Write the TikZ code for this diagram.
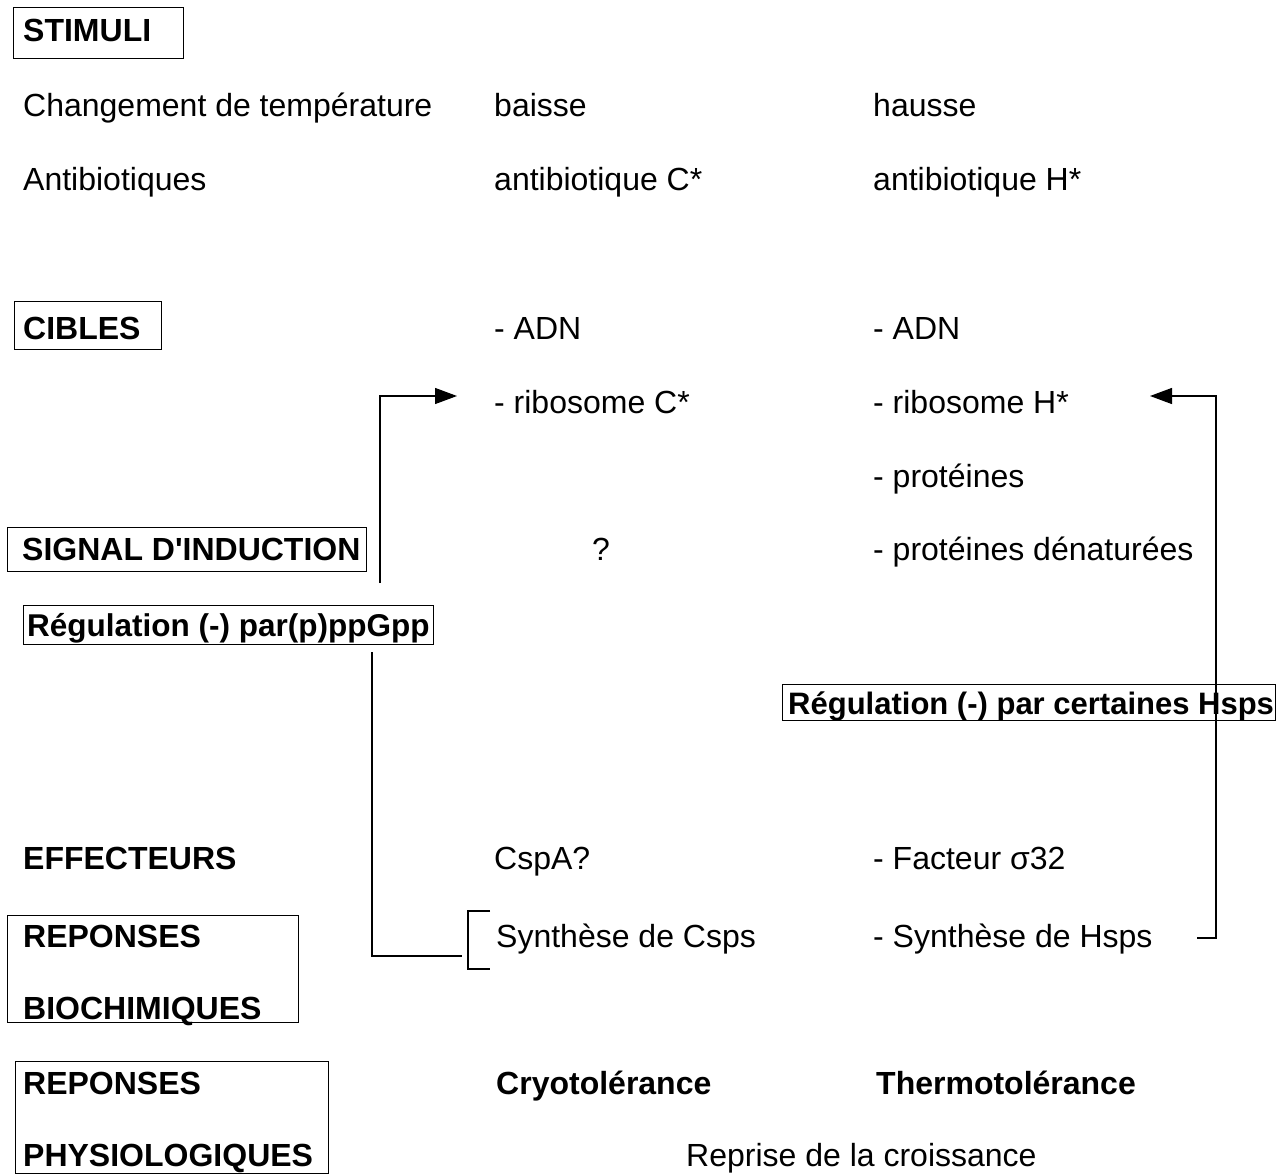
\documentclass[tikz,border=0pt]{standalone}
\usepackage{fontspec}
\setmainfont{Liberation Sans}[Ligatures=TeXOff]
\usetikzlibrary{arrows.meta}
\begin{document}
\begin{tikzpicture}[x=1pt,y=-1pt,
  txt/.style={anchor=base west, inner sep=0pt, font=\fontsize{32}{38}\selectfont},
  btxt/.style={anchor=base west, inner sep=0pt, font=\fontsize{32}{38}\selectfont\bfseries},
  frame/.style={draw, line width=1.2pt, anchor=north west, inner sep=0pt},
  link/.style={line width=1.3pt},
  tip/.style={-{Triangle[length=22pt,width=16pt]}}
]
\useasboundingbox (0,0) rectangle (1281,1174);

% frames around the headings
\node[frame, minimum width=170pt, minimum height=51pt] (fStim) at (13,7) {};
\node[frame, minimum width=147pt, minimum height=48pt] (fCib) at (14,301) {};
\node[frame, minimum width=359pt, minimum height=44pt] (fSig) at (7,527) {};
\node[frame, minimum width=410pt, minimum height=39pt] (fPpg) at (23,605) {};
\node[frame, minimum width=493pt, minimum height=36pt] (fHsp) at (782,684) {};
\node[frame, minimum width=291pt, minimum height=107pt] (fBio) at (7,915) {};
\node[frame, minimum width=313pt, minimum height=112pt] (fPhy) at (15,1061) {};

% stimuli
\node[btxt] (stim) at (23,42) {STIMULI};
\node[txt] (chg) at (23,117) {Changement de température};
\node[txt] (baisse) at (494,117) {baisse};
\node[txt] (hausse) at (873,117) {hausse};
\node[txt] (anti) at (23,191) {Antibiotiques};
\node[txt] (antiC) at (494,191) {antibiotique C*};
\node[txt] (antiH) at (873,191) {antibiotique H*};

% targets
\node[btxt] (cib) at (23,339) {CIBLES};
\node[txt] (adnC) at (494,339) {- ADN};
\node[txt] (adnH) at (873,339) {- ADN};
\node[txt] (ribC) at (494,413) {- ribosome C*};
\node[txt] (ribH) at (873,413) {- ribosome H*};
\node[txt] (prot) at (873,487) {- protéines};

% induction signal
\node[btxt] (sig) at (22,560) {SIGNAL D'INDUCTION};
\node[txt] (quest) at (592,560) {?};
\node[txt] (protD) at (873,560) {- protéines dénaturées};

% regulation boxes
\node[btxt, font=\fontsize{31.5}{38}\selectfont\bfseries] (ppg) at (27,636) {Régulation (-) par(p)ppGpp};
\node[btxt, font=\fontsize{31}{37}\selectfont\bfseries] (hsp) at (788,714) {Régulation (-) par certaines Hsps};

% effectors and responses
\node[btxt] (eff) at (23,869) {EFFECTEURS};
\node[txt] (csp) at (494,869) {CspA?};
\node[txt] (sig32) at (873,869) {- Facteur σ32};
\node[btxt] (repB) at (23,947) {REPONSES};
\node[txt] (synC) at (496,947) {Synthèse de Csps};
\node[txt] (synH) at (873,947) {- Synthèse de Hsps};
\node[btxt] (bio) at (23,1019) {BIOCHIMIQUES};
\node[btxt] (repP) at (23,1094) {REPONSES};
\node[btxt] (cryo) at (496,1094) {Cryotolérance};
\node[btxt] (thermo) at (876,1094) {Thermotolérance};
\node[btxt] (phy) at (23,1166) {PHYSIOLOGIQUES};
\node[txt] (repr) at (686,1166) {Reprise de la croissance};

% connector end points
\coordinate (lA) at (380,583);
\coordinate (aL) at (457,396);
\coordinate (rB) at (1197,938);
\coordinate (aR) at (1150,396);
\coordinate (lB) at (372,652);
\coordinate (lC) at (462,956);
\coordinate (bTop) at (490,911);
\coordinate (bBot) at (490,969);

% feedback loops
\draw[link,tip] (lA) |- (aL);
\draw[link,tip] (rB) -- ++(19,0) |- (aR);
\draw[link] (lB) |- (lC);
\draw[link] (bTop) -- ++(-22,0) |- (bBot);
\end{tikzpicture}
\end{document}
